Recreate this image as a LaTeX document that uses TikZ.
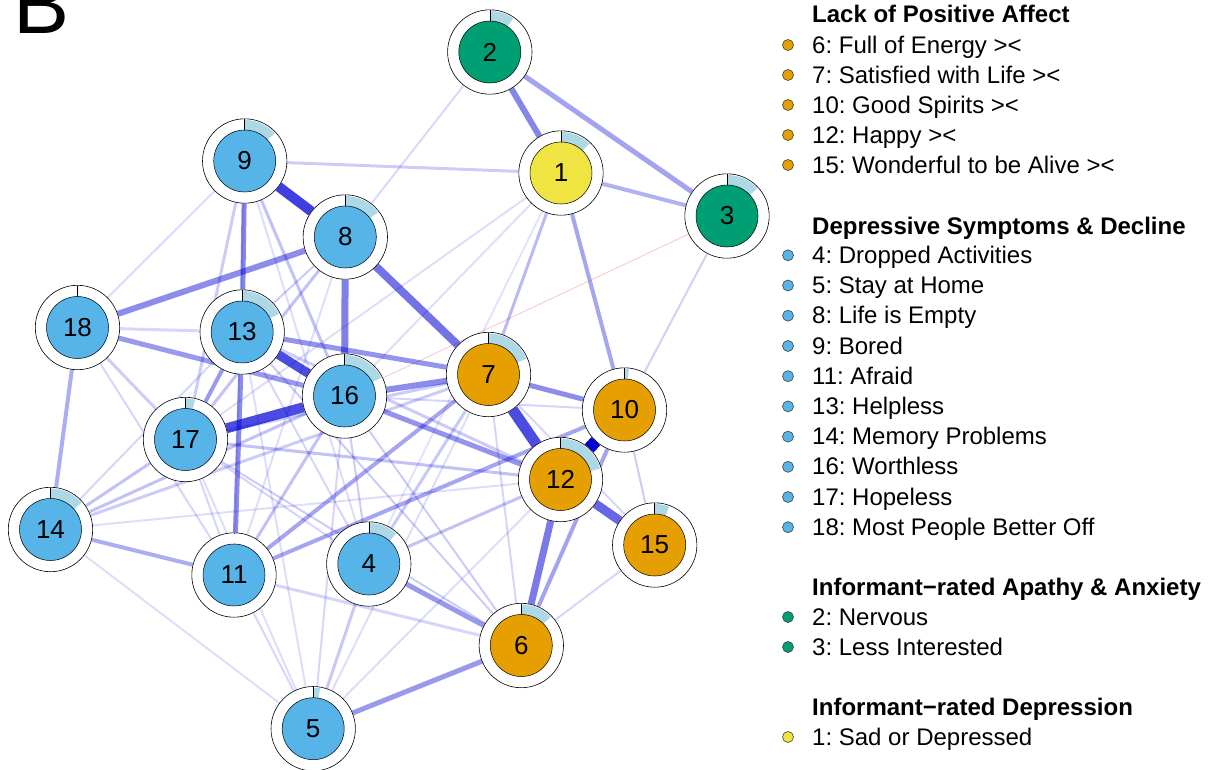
\documentclass[tikz,border=0pt]{standalone}
\usepackage{fontspec}
\setmainfont{Liberation Sans}
\frenchspacing
\usetikzlibrary{calc}
\definecolor{eb}{HTML}{0000D5}
\definecolor{negred}{HTML}{E04040}
\definecolor{cgreen}{HTML}{009E73}
\definecolor{corange}{HTML}{E69F00}
\definecolor{cblue}{HTML}{56B4E9}
\definecolor{cyellow}{HTML}{F0E442}
\definecolor{piecol}{HTML}{ADD8E6}
\pgfdeclarelayer{bg}
\pgfsetlayers{bg,main}
\tikzset{
  sym/.style 2 args={circle, draw=black, line width=0.6pt, fill=white,
    minimum size=84.4pt, inner sep=0pt, font=\fontsize{26}{26}\selectfont,
    path picture={
      \coordinate (pc) at (path picture bounding box.center);
      \fill[piecol] ($(pc)+(-90:31)$) -- ($(pc)+(-90:41)$)
        arc[start angle=-90, delta angle={360*#2}, radius=41]
        -- ($(pc)+({-90+360*#2}:31)$)
        arc[start angle={-90+360*#2}, delta angle={-360*#2}, radius=31] -- cycle;
      \draw[black, line width=0.5pt] ($(pc)+(-90:31)$) -- ($(pc)+(-90:42)$);
      \draw[white, line width=1.2pt] ($(pc)+({-90+360*#2}:31.5)$) -- ($(pc)+({-90+360*#2}:41.5)$);
      \filldraw[fill=#1, draw=black, line width=0.5pt] (pc) circle (31);
    }},
  leg/.style={anchor=base west, inner sep=0pt, font=\fontsize{24}{24}\selectfont},
  legh/.style={anchor=base west, inner sep=0pt, font=\fontsize{24}{24}\selectfont\bfseries},
  bul/.style={circle, draw=black!75, line width=0.6pt, minimum size=11pt, inner sep=0pt},
}
\begin{document}
\begin{tikzpicture}[x=1pt,y=-1pt]
\useasboundingbox (0,0) rectangle (1215,769);
\clip (0,0) rectangle (1215,769);

\node[anchor=base west, inner sep=0pt, font=\fontsize{84}{84}\selectfont] (lab) at (13,33) {B};

% nodes
\node[sym={cgreen}{0.10}] (n2) at (489.8,52) {2};
\node[sym={cyellow}{0.125}] (n1) at (561,173) {1};
\node[sym={cgreen}{0.135}] (n3) at (727,216) {3};
\node[sym={cblue}{0.135}] (n9) at (244.7,161) {9};
\node[sym={cblue}{0.15}] (n8) at (345.3,237) {8};
\node[sym={cblue}{0.006}] (n18) at (77.5,327.5) {18};
\node[sym={cblue}{0.18}] (n13) at (242.2,332) {13};
\node[sym={corange}{0.19}] (n7) at (488.5,374.5) {7};
\node[sym={cblue}{0.18}] (n16) at (344.5,396) {16};
\node[sym={corange}{0.02}] (n10) at (624.5,410) {10};
\node[sym={cblue}{0.04}] (n17) at (185.5,439.5) {17};
\node[sym={corange}{0.21}] (n12) at (560.5,479.5) {12};
\node[sym={corange}{0.06}] (n15) at (654.7,545) {15};
\node[sym={cblue}{0.14}] (n14) at (50.5,529.5) {14};
\node[sym={cblue}{0.002}] (n11) at (234,575) {11};
\node[sym={cblue}{0.12}] (n4) at (368.8,564) {4};
\node[sym={corange}{0.13}] (n6) at (521.3,645.5) {6};
\node[sym={cblue}{0.03}] (n5) at (313.2,728.7) {5};

% edges
\begin{pgfonlayer}{bg}
\draw[line width=1pt, draw=negred, draw opacity=0.25] (n3) -- (n16);
\foreach \a/\b/\w/\p in {
  1/4/2/0.11, 18/9/2/0.14, 9/4/2/0.13, 9/11/2/0.13, 8/11/2/0.13, 8/2/2/0.15,
  1/17/2/0.13, 1/16/2/0.13, 17/5/2/0.13, 7/5/2/0.13, 14/5/2/0.13, 14/12/2/0.13,
  5/13/2/0.13, 12/5/2/0.13, 18/11/2/0.16, 17/4/2/0.16, 13/4/2/0.16, 16/10/2/0.16,
  10/3/2/0.18, 15/6/2/0.16, 7/6/2/0.16, 7/15/2/0.16, 11/5/2/0.16, 11/17/2/0.16,
  14/13/2/0.16, 18/13/3/0.16, 11/6/3/0.16, 16/5/2/0.16, 17/6/2/0.2, 13/6/2/0.2,
  16/6/2/0.2, 16/4/2/0.2, 8/13/2/0.2, 10/15/2/0.2, 1/9/3/0.2, 4/7/3/0.21,
  4/5/3/0.21, 14/7/3/0.2, 18/17/3/0.2, 9/17/3/0.2, 7/17/3/0.2, 13/12/3/0.2,
  1/7/3/0.27, 4/12/3/0.24, 16/14/3/0.24, 14/17/3/0.24, 17/12/3/0.24, 16/11/3/0.24,
  9/16/3/0.24, 8/17/3/0.24, 1/3/4/0.3, 18/14/4/0.32, 14/11/4/0.32, 10/6/4/0.36,
  1/10/4/0.35, 11/7/4/0.35, 11/10/4/0.35, 13/17/4/0.4, 2/3/5/0.36, 6/4/5/0.4,
  6/5/5/0.4, 18/16/5/0.4, 16/12/5/0.42, 7/10/5/0.45, 13/7/5/0.42, 16/7/6/0.45,
  18/8/6/0.45, 13/11/5/0.45, 9/13/5/0.48, 8/16/7/0.5, 2/1/6/0.48, 12/6/7/0.52,
  8/7/8/0.55, 12/15/9/0.6, 13/16/9/0.7, 17/16/10/0.7, 9/8/10/0.75, 7/12/11/0.7,
  10/12/12/1.0}
  \draw[line width=\w pt, draw=eb, draw opacity=\p] (n\a) -- (n\b);
\end{pgfonlayer}

% legend
\node[legh] (h1) at (812,22.5) {Lack of Positive Affect};
\node[bul, fill=corange] (b6) at (788,45) {};
\node[leg] (t6) at (812,53) {6: Full of Energy ><};
\node[bul, fill=corange] (b7) at (788,75) {};
\node[leg] (t7) at (812,83) {7: Satisfied with Life ><};
\node[bul, fill=corange] (b10) at (788,105) {};
\node[leg] (t10) at (812,113) {10: Good Spirits ><};
\node[bul, fill=corange] (b12) at (788,135) {};
\node[leg] (t12) at (812,143) {12: Happy ><};
\node[bul, fill=corange] (b15) at (788,165) {};
\node[leg] (t15) at (812,173) {15: Wonderful to be Alive ><};

\node[legh] (h2) at (812,234.3) {Depressive Symptoms \& Decline};
\node[bul, fill=cblue] (b4) at (788,255.3) {};
\node[leg] (t4) at (812,263.3) {4: Dropped Activities};
\node[bul, fill=cblue] (b5) at (788,285.5) {};
\node[leg] (t5) at (812,293.5) {5: Stay at Home};
\node[bul, fill=cblue] (b8) at (788,315.7) {};
\node[leg] (t8) at (812,323.7) {8: Life is Empty};
\node[bul, fill=cblue] (b9) at (788,346) {};
\node[leg] (t9) at (812,354) {9: Bored};
\node[bul, fill=cblue] (b11) at (788,376.2) {};
\node[leg] (t11) at (812,384.2) {11: Afraid};
\node[bul, fill=cblue] (b13) at (788,406.4) {};
\node[leg] (t13) at (812,414.4) {13: Helpless};
\node[bul, fill=cblue] (b14) at (788,436.6) {};
\node[leg] (t14) at (812,444.6) {14: Memory Problems};
\node[bul, fill=cblue] (b16) at (788,466.8) {};
\node[leg] (t16) at (812,474.8) {16: Worthless};
\node[bul, fill=cblue] (b17) at (788,497) {};
\node[leg] (t17) at (812,505) {17: Hopeless};
\node[bul, fill=cblue] (b18) at (788,527.2) {};
\node[leg] (t18) at (812,535.2) {18: Most People Better Off};

\node[legh] (h3) at (812,595) {Informant−rated Apathy \& Anxiety};
\node[bul, fill=cgreen] (b2) at (788,617) {};
\node[leg] (t2) at (812,625) {2: Nervous};
\node[bul, fill=cgreen] (b3) at (788,647) {};
\node[leg] (t3) at (812,655) {3: Less Interested};

\node[legh] (h4) at (812,715) {Informant−rated Depression};
\node[bul, fill=cyellow] (b1) at (788,737) {};
\node[leg] (t1) at (812,745) {1: Sad or Depressed};
\end{tikzpicture}
\end{document}
